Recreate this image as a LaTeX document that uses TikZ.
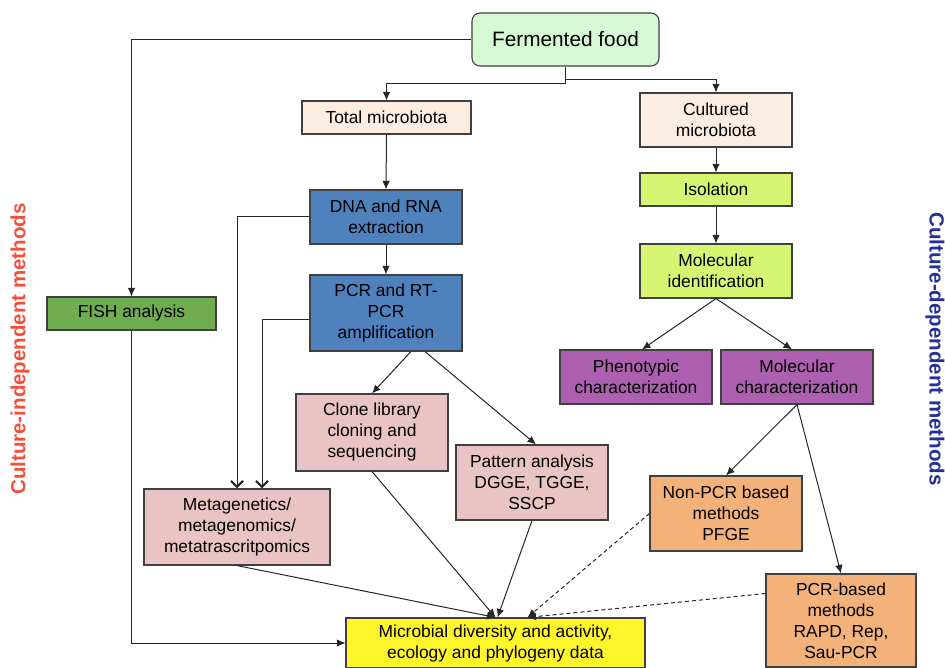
\documentclass[tikz,border=0pt]{standalone}
\usepackage{fontspec}
\setmainfont{Liberation Sans}
\usetikzlibrary{arrows.meta,calc}
\definecolor{ffgreen}{HTML}{D5F8D5}
\definecolor{peach}{HTML}{FCEDE2}
\definecolor{steel}{HTML}{4F81BD}
\definecolor{fishg}{HTML}{70AD50}
\definecolor{pinkb}{HTML}{EAC4C4}
\definecolor{yell}{HTML}{FFF52B}
\definecolor{lime}{HTML}{D5F573}
\definecolor{purp}{HTML}{AD5FB0}
\definecolor{orng}{HTML}{F4B27B}
\definecolor{redlab}{HTML}{F2503C}
\definecolor{bluelab}{HTML}{24309A}
\definecolor{edge}{HTML}{404040}
\tikzset{
  box/.style={draw=edge, line width=1.1pt, rectangle, inner sep=0pt, align=center,
    font=\fontsize{17.4}{21}\selectfont, minimum width=152, minimum height=54},
  arr/.style={draw=black!85, line width=1pt, -{Latex[length=8.5pt,width=7.5pt]}},
  oarr/.style={draw=black!85, line width=1pt, -{Straight Barb[length=6pt,width=12pt,line width=2.2pt]}},
  darr/.style={arr, dashed, dash pattern=on 4pt off 3pt},
  sidelab/.style={font=\fontsize{20.5}{24}\selectfont\bfseries, inner sep=0pt}
}
\begin{document}
\begin{tikzpicture}[x=1pt,y=-1pt]
\useasboundingbox (0,0) rectangle (945,668);
% nodes
\node[box, fill=ffgreen, rounded corners=8pt, minimum width=187, minimum height=53,
  font=\fontsize{20.8}{24}\selectfont] (ff) at (565.5,39.5) {Fermented food};
\node[box, fill=peach, minimum width=169, minimum height=33] (tm) at (386.5,117.5) {Total microbiota};
\node[box, fill=peach] (cm) at (716,120) {Cultured\\microbiota};
\node[box, fill=lime, minimum height=33] (iso) at (716,189.5) {Isolation};
\node[box, fill=lime] (mid) at (716,271) {Molecular\\identification};
\node[box, fill=steel] (dna) at (386,217) {DNA and RNA\\extraction};
\node[box, fill=steel, minimum height=76] (pcr) at (386,313) {PCR and RT-\\PCR\\amplification};
\node[box, fill=fishg, minimum width=169, minimum height=33] (fish) at (131.5,313.5) {FISH analysis};
\node[box, fill=pinkb, minimum width=186, minimum height=76] (meta) at (237,527) {Metagenetics/\\metagenomics/\\metatrascritpomics};
\node[box, fill=pinkb, minimum height=77] (clone) at (372,432.5) {Clone library\\cloning and\\sequencing};
\node[box, fill=pinkb, minimum height=75] (pat) at (532,482.5) {Pattern analysis\\DGGE, TGGE,\\SSCP};
\node[box, fill=purp] (ph) at (636,377) {Phenotypic\\characterization};
\node[box, fill=purp] (mc) at (797,377) {Molecular\\characterization};
\node[box, fill=orng, minimum height=75] (np) at (726,513.5) {Non-PCR based\\methods\\PFGE};
\node[box, fill=orng, minimum width=150, minimum height=93] (pb) at (841,620.5) {PCR-based\\methods\\RAPD, Rep,\\Sau-PCR};
\node[box, fill=yell, minimum width=299, minimum height=50] (micro) at (495.5,643) {Microbial diversity and activity,\\ecology and phylogeny data};
\node[sidelab, text=redlab, rotate=90] (lab1) at (20,349) {Culture-independent methods};
\node[sidelab, text=bluelab, rotate=-90] (lab2) at (935,349) {Culture-dependent methods};
\coordinate (j1) at (565.5,80);
% connectors
\draw[arr] (ff.west) -| (fish.north);
\draw[arr] (ff.south) -- ++(0,17) -| (tm.north);
\draw[arr] (j1) -| (cm.north);
\draw[arr] (tm.south) -- (dna.north);
\draw[arr] (dna.south) -- (pcr.north);
\draw[arr] (cm.south) -- (iso.north);
\draw[arr] (iso.south) -- (mid.north);
\draw[arr] (mid.south) -- ($(ph.north)+(6,0)$);
\draw[arr] (mid.south) -- ($(mc.north)+(-5,0)$);
\draw[oarr] (dna.west) -| (meta.north);
\draw[oarr] ($(pcr.west)+(0,7)$) -| ($(meta.north)+(25,0)$);
\draw[arr] ($(pcr.south)+(25,0)$) -- (clone.north);
\draw[arr] ($(pcr.south)+(39,0)$) -- ($(pat.north)+(4,0)$);
\draw[arr] (meta.south) -- (micro.north);
\draw[arr] (clone.south) -- (micro.north);
\draw[arr] (pat.south) -- ($(micro.north)+(2,0)$);
\draw[arr] (fish.south) |- (micro.west);
\draw[arr] (mc.south) -- (np.north);
\draw[arr] (mc.south) -- (pb.north);
\draw[darr] (np.west) -- ($(micro.north)+(32,0)$);
\draw[darr] ($(pb.west)+(0,-27)$) -- ($(micro.north)+(32,0)$);
\end{tikzpicture}
\end{document}
